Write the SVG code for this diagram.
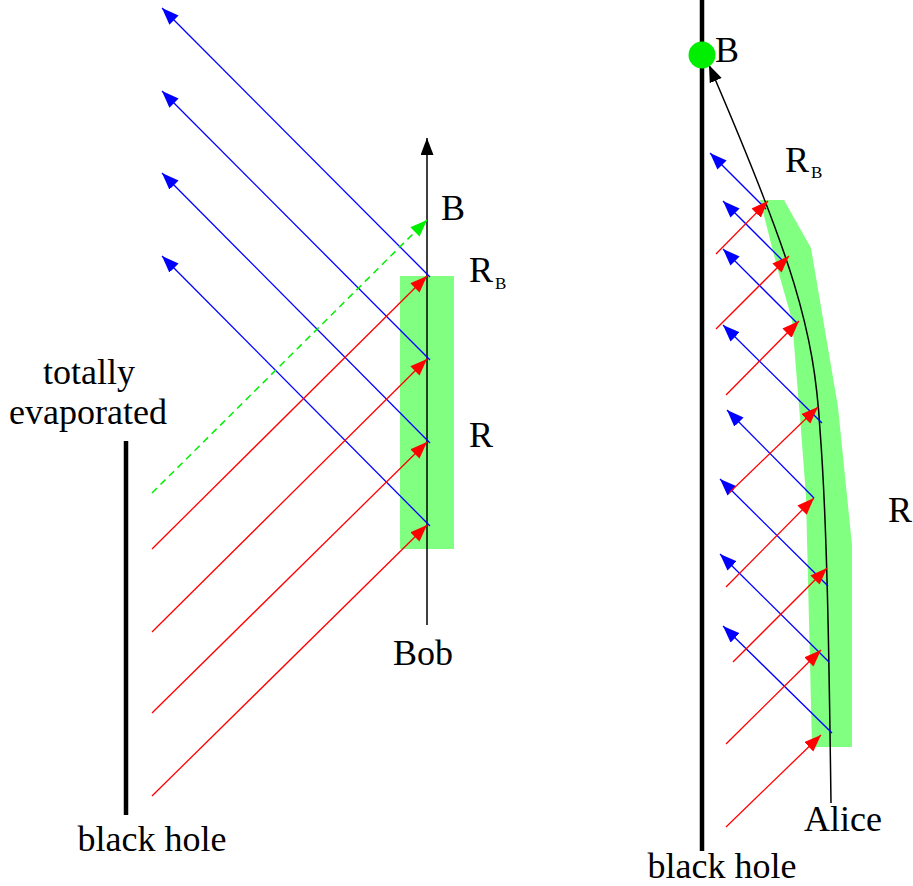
<svg xmlns="http://www.w3.org/2000/svg" width="913" height="886" viewBox="0 0 913 886">
<style>
text{font-family:'Liberation Serif','DejaVu Serif',serif;font-size:36px;fill:#000}
.sub{font-size:17px}
.b{stroke:#0000ff;stroke-width:1.3;fill:none;marker-end:url(#ab)}
.r{stroke:#ff0000;stroke-width:1.3;fill:none;marker-end:url(#ar)}
.g{stroke:#00ee00;stroke-width:1.5;fill:none;stroke-dasharray:7 5;marker-end:url(#ag)}
.k{stroke:#000;stroke-width:1.5;fill:none;marker-end:url(#ak)}
.bh{stroke:#000;stroke-width:4.5;fill:none}
.band{fill:#80ff80;stroke:none}
</style>
<defs>
<marker id="ab" markerUnits="userSpaceOnUse" markerWidth="18" markerHeight="14" refX="17" refY="6.5" orient="auto"><path d="M0,0 L17,6.5 L0,13 z" fill="#0000ff"/></marker>
<marker id="ar" markerUnits="userSpaceOnUse" markerWidth="18" markerHeight="14" refX="17" refY="6.5" orient="auto"><path d="M0,0 L17,6.5 L0,13 z" fill="#ff0000"/></marker>
<marker id="ag" markerUnits="userSpaceOnUse" markerWidth="18" markerHeight="14" refX="17" refY="6.5" orient="auto"><path d="M0,0 L17,6.5 L0,13 z" fill="#00ee00"/></marker>
<marker id="ak" markerUnits="userSpaceOnUse" markerWidth="18" markerHeight="14" refX="17" refY="6.5" orient="auto"><path d="M0,0 L17,6.5 L0,13 z" fill="#000"/></marker>
</defs>
<rect width="913" height="886" fill="#fff"/>

<g id="left-band"><rect class="band" x="400" y="276" width="54" height="273"/></g>
<g id="right-band"><polygon class="band" points="760,200 784,200 811,248 838,407 852,545 852,747 812,747 806,497 801,430 792,320 777,267"/></g>

<g id="left-blackhole"><line class="bh" x1="126" y1="441" x2="126" y2="815"/></g>
<g id="right-blackhole"><line class="bh" x1="702" y1="0" x2="702" y2="851"/></g>

<g id="connectors">
<line class="k" x1="427" y1="625" x2="427" y2="138"/>
<line class="b" x1="430" y1="277" x2="162" y2="8"/>
<line class="b" x1="430" y1="360" x2="162" y2="91"/>
<line class="b" x1="430" y1="443" x2="162" y2="173"/>
<line class="b" x1="430" y1="526" x2="162" y2="256"/>
<line class="r" x1="152" y1="549" x2="427" y2="276"/>
<line class="r" x1="152" y1="632" x2="427" y2="359"/>
<line class="r" x1="152" y1="713" x2="427" y2="442"/>
<line class="r" x1="152" y1="796" x2="427" y2="525"/>
<line class="g" x1="152" y1="493" x2="427" y2="220"/>

<path class="k" d="M831,803 C829,650 827,520 820,430 C814,330 794,262 709,65"/>
<line class="b" x1="766" y1="209" x2="710" y2="153"/>
<line class="b" x1="783" y1="261" x2="723" y2="201"/>
<line class="b" x1="797" y1="323" x2="723" y2="249"/>
<line class="b" x1="822" y1="423" x2="723" y2="325"/>
<line class="b" x1="814" y1="498" x2="727" y2="410"/>
<line class="b" x1="828" y1="586" x2="720" y2="479"/>
<line class="b" x1="829" y1="662" x2="720" y2="554"/>
<line class="b" x1="832" y1="733" x2="723" y2="626"/>
<line class="r" x1="716" y1="254" x2="768" y2="201"/>
<line class="r" x1="716" y1="329" x2="789" y2="256"/>
<line class="r" x1="726" y1="395" x2="799" y2="321"/>
<line class="r" x1="729" y1="493" x2="818" y2="407"/>
<line class="r" x1="726" y1="587" x2="814" y2="498"/>
<line class="r" x1="733" y1="662" x2="827" y2="568"/>
<line class="r" x1="726" y1="744" x2="821" y2="650"/>
<line class="r" x1="726" y1="827" x2="821" y2="735"/>
</g>

<g id="right-B-point"><circle cx="702" cy="55" r="13.5" fill="#00ee00"/></g>

<g id="labels">
<text x="89" y="384" text-anchor="middle">totally</text>
<text x="88" y="424" text-anchor="middle">evaporated</text>
<text x="152" y="851" text-anchor="middle">black hole</text>
<text x="423" y="665" text-anchor="middle">Bob</text>
<text x="441" y="220">B</text>
<text x="469" y="282">R</text><text class="sub" x="495" y="289">B</text>
<text x="469" y="447">R</text>
<text x="715" y="62">B</text>
<text x="785" y="172">R</text><text class="sub" x="811" y="178">B</text>
<text x="888" y="522">R</text>
<text x="843" y="831" text-anchor="middle">Alice</text>
<text x="722" y="878" text-anchor="middle">black hole</text>
</g>
</svg>
